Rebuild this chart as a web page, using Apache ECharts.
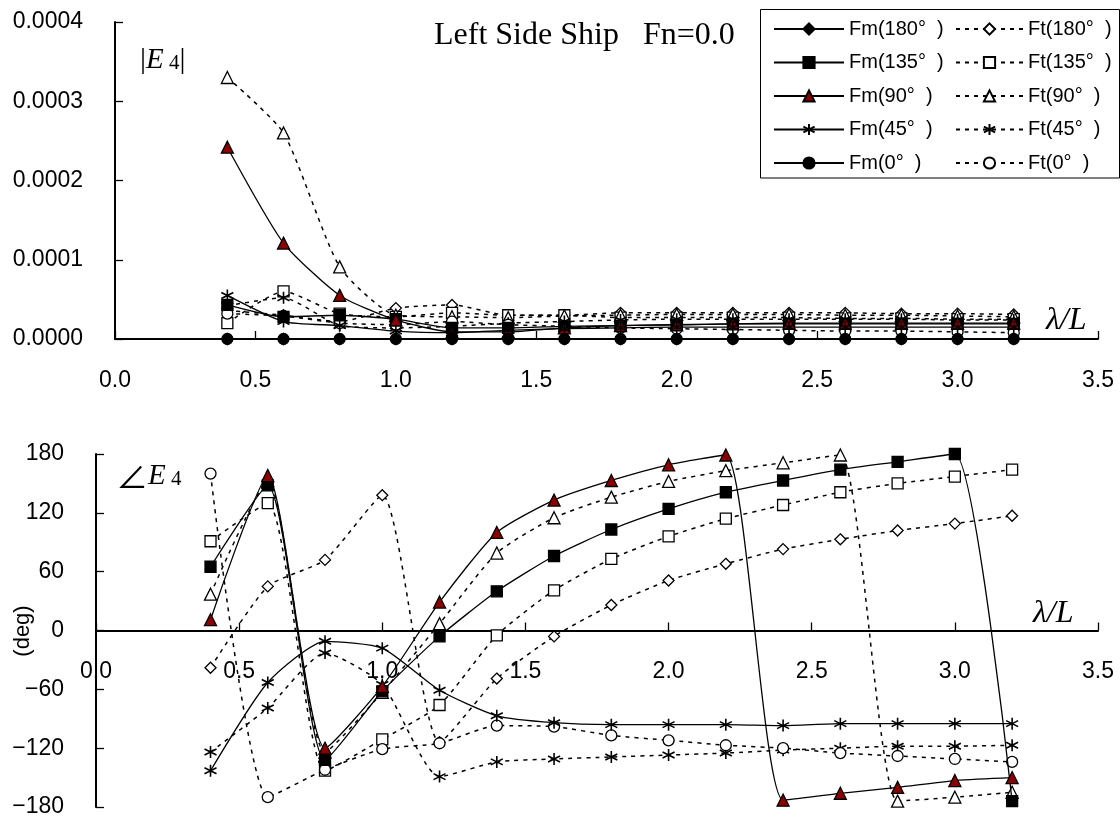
<!DOCTYPE html>
<html>
<head>
<meta charset="utf-8">
<script src="https://cdn.jsdelivr.net/npm/echarts@6/dist/echarts.min.js"></script>
<style>
  html, body { margin: 0; padding: 0; background: #fff; }
  #chart { width: 1120px; height: 821px; }
</style>
</head>
<body>
<div id="chart"></div>
<script>
// Wave length ratio λ/L at which the responses were evaluated
const lambdaL = [0.4, 0.6, 0.8, 1.0, 1.2, 1.4, 1.6, 1.8, 2.0, 2.2, 2.4, 2.6, 2.8, 3.0, 3.2];

// Axis ticks
const xTicks = { min: 0, max: 3.5, step: 0.5 };
const ampTicks = { min: 0, max: 0.0004, step: 0.0001 };
const phaseTicks = { min: -180, max: 180, step: 60 };

// |E4| amplitudes
const fm180Amp = [0, 0, 0, 0, 0, 0, 0, 0, 0, 0, 0, 0, 0, 0, 0];
const fm135Amp = [0.43e-4, 0.28e-4, 0.30e-4, 0.25e-4, 0.14e-4, 0.14e-4, 0.16e-4, 0.17e-4, 0.18e-4, 0.19e-4, 0.19e-4, 0.19e-4, 0.19e-4, 0.19e-4, 0.19e-4];
const fm90Amp  = [2.42e-4, 1.21e-4, 0.55e-4, 0.24e-4, 0.09e-4, 0.09e-4, 0.14e-4, 0.17e-4, 0.18e-4, 0.19e-4, 0.20e-4, 0.20e-4, 0.20e-4, 0.20e-4, 0.20e-4];
const fm45Amp  = [0.55e-4, 0.22e-4, 0.17e-4, 0.10e-4, 0.08e-4, 0.11e-4, 0.13e-4, 0.14e-4, 0.15e-4, 0.15e-4, 0.15e-4, 0.15e-4, 0.15e-4, 0.15e-4, 0.15e-4];
const fm0Amp   = [0, 0, 0, 0, 0, 0, 0, 0, 0, 0, 0, 0, 0, 0, 0];
const ft180Amp = [0.36e-4, 0.30e-4, 0.22e-4, 0.39e-4, 0.43e-4, 0.30e-4, 0.30e-4, 0.33e-4, 0.33e-4, 0.33e-4, 0.33e-4, 0.33e-4, 0.32e-4, 0.32e-4, 0.31e-4];
const ft135Amp = [0.20e-4, 0.60e-4, 0.32e-4, 0.28e-4, 0.33e-4, 0.30e-4, 0.30e-4, 0.27e-4, 0.27e-4, 0.27e-4, 0.27e-4, 0.26e-4, 0.26e-4, 0.25e-4, 0.25e-4];
const ft90Amp  = [3.30e-4, 2.60e-4, 0.91e-4, 0.30e-4, 0.28e-4, 0.27e-4, 0.29e-4, 0.30e-4, 0.31e-4, 0.31e-4, 0.31e-4, 0.30e-4, 0.30e-4, 0.29e-4, 0.28e-4];
const ft45Amp  = [0.42e-4, 0.52e-4, 0.17e-4, 0.14e-4, 0.16e-4, 0.20e-4, 0.22e-4, 0.24e-4, 0.25e-4, 0.25e-4, 0.25e-4, 0.25e-4, 0.25e-4, 0.24e-4, 0.24e-4];
const ft0Amp   = [0.32e-4, 0.29e-4, 0.20e-4, 0.18e-4, 0.22e-4, 0.18e-4, 0.16e-4, 0.14e-4, 0.13e-4, 0.12e-4, 0.11e-4, 0.10e-4, 0.10e-4, 0.09e-4, 0.08e-4];

// ∠E4 phases (deg)
const fm135Ph = [65, 148, -132, -62, -6, 40, 76, 103, 124, 141, 153, 164, 172, 180, -174];
const fm90Ph  = [11, 158, -120, -57, 29, 100, 133, 153, 169, 179, -173, -166, -160, -153, -150];
const fm45Ph  = [-143, -53, -11, -18, -61, -87, -94, -96, -96, -96, -97, -95, -95, -95, -95];
const ft180Ph = [-38, 45, 72, 138, -114, -49, -6, 26, 51, 68, 83, 93, 102, 109, 117];
const ft135Ph = [91, 130, -143, -111, -76, -5, 41, 73, 96, 114, 128, 141, 150, 157, 164];
const ft90Ph  = [37, 153, -124, -63, 7, 79, 115, 136, 152, 163, 171, 179, -174, -170, -165];
const ft45Ph  = [-124, -79, -23, -55, -149, -134, -131, -129, -127, -125, -122, -120, -118, -118, -117];
const ft0Ph   = [160, -170, -142, -121, -115, -97, -98, -107, -112, -117, -120, -125, -128, -131, -134];

// Series names
const fmNames = ['Fm(180°  )', 'Fm(135°  )', 'Fm(90°  )', 'Fm(45°  )', 'Fm(0°  )'];
const ftNames = ['Ft(180°  )', 'Ft(135°  )', 'Ft(90°  )', 'Ft(45°  )', 'Ft(0°  )'];

const STAR = 'path://M6,0L6,12M0.8,3L11.2,9M0.8,9L11.2,3';
const SANS = '"Liberation Sans", Arial, sans-serif';
const SERIF = '"Liberation Serif", "Times New Roman", serif';
const RED = '#8b0000';

// Plot areas (px)
const ampGrid = { left: 115, right: 22, top: 22, height: 317 };
const phaseGrid = { left: 96, right: 22, top: 454, height: 353 };

function pairs(ys) { return lambdaL.map((x, i) => [x, ys[i]]); }

function makeSeries(name, grid, ys, symbol, fill, dashed) {
  return {
    name: name,
    type: 'line',
    xAxisIndex: grid,
    yAxisIndex: grid,
    data: pairs(ys),
    smooth: 0.2,
    symbol: symbol,
    symbolSize: symbol === 'triangle' ? 12 : (symbol === STAR ? 12 : 11),
    showAllSymbol: true,
    lineStyle: { color: '#000', width: dashed ? 1.5 : 1.3, type: dashed ? [4, 5] : 'solid' },
    itemStyle: { color: fill, borderColor: '#000', borderWidth: symbol === STAR ? 1.6 : 1.3 },
    emphasis: { disabled: true },
    z: dashed ? 2 : 3
  };
}

const series = [
  // amplitude
  makeSeries(fmNames[0], 0, fm180Amp, 'diamond', '#000', false),
  makeSeries(fmNames[1], 0, fm135Amp, 'rect', '#000', false),
  makeSeries(fmNames[2], 0, fm90Amp, 'triangle', RED, false),
  makeSeries(fmNames[3], 0, fm45Amp, STAR, '#000', false),
  makeSeries(fmNames[4], 0, fm0Amp, 'circle', '#000', false),
  makeSeries(ftNames[0], 0, ft180Amp, 'diamond', '#fff', true),
  makeSeries(ftNames[1], 0, ft135Amp, 'rect', '#fff', true),
  makeSeries(ftNames[2], 0, ft90Amp, 'triangle', '#fff', true),
  makeSeries(ftNames[3], 0, ft45Amp, STAR, '#fff', true),
  makeSeries(ftNames[4], 0, ft0Amp, 'circle', '#fff', true),
  // phase
  makeSeries(fmNames[1], 1, fm135Ph, 'rect', '#000', false),
  makeSeries(fmNames[2], 1, fm90Ph, 'triangle', RED, false),
  makeSeries(fmNames[3], 1, fm45Ph, STAR, '#000', false),
  makeSeries(ftNames[0], 1, ft180Ph, 'diamond', '#fff', true),
  makeSeries(ftNames[1], 1, ft135Ph, 'rect', '#fff', true),
  makeSeries(ftNames[2], 1, ft90Ph, 'triangle', '#fff', true),
  makeSeries(ftNames[3], 1, ft45Ph, STAR, '#fff', true),
  makeSeries(ftNames[4], 1, ft0Ph, 'circle', '#fff', true)
];

function xAxis(grid, offset) {
  return {
    gridIndex: grid,
    type: 'value',
    position: 'bottom',
    offset: offset,
    min: xTicks.min, max: xTicks.max, interval: xTicks.step,
    axisLine: { onZero: false, lineStyle: { color: '#000', width: 2 } },
    axisTick: { inside: true, length: 8, lineStyle: { color: '#000', width: 1.3 } },
    axisLabel: {
      margin: 30, color: '#000', fontSize: 23, fontFamily: SANS,
      formatter: v => v.toFixed(1)
    },
    splitLine: { show: false }
  };
}

function yAxis(grid, t, fmt) {
  return {
    gridIndex: grid,
    type: 'value',
    min: t.min, max: t.max, interval: t.step,
    axisLine: { show: true, onZero: false, lineStyle: { color: '#000', width: 2 } },
    axisTick: { show: true, inside: true, length: 8, lineStyle: { color: '#000', width: 1.3 } },
    axisLabel: { margin: 32, color: '#000', fontSize: 23, fontFamily: SANS, formatter: fmt },
    splitLine: { show: false }
  };
}

function legend(names, left, itemWidth) {
  return {
    data: names,
    orient: 'vertical',
    left: left,
    top: 14,
    itemWidth: itemWidth,
    itemHeight: 14,
    itemGap: 13.5,
    selectedMode: false,
    textStyle: { color: '#000', fontSize: 20, lineHeight: 20, fontFamily: SANS }
  };
}

// the phase x-axis sits on the 0° line, halfway up its plot area
const phaseZeroOffset = -phaseGrid.height * (0 - phaseTicks.min) / (phaseTicks.max - phaseTicks.min);

const option = {
  animation: false,
  backgroundColor: '#fff',
  grid: [ampGrid, phaseGrid],
  xAxis: [xAxis(0, 0), xAxis(1, phaseZeroOffset)],
  yAxis: [
    yAxis(0, ampTicks, v => v.toFixed(4)),
    yAxis(1, phaseTicks, v => String(v).replace('-', '\u2212'))
  ],
  legend: [legend(fmNames, 768, 70), legend(ftNames, 950, 67)],
  graphic: [
    { type: 'rect', z: 0, shape: { x: 760.5, y: 9.5, width: 359, height: 168.5 },
      style: { fill: '#fff', stroke: '#000', lineWidth: 1 } },
    { type: 'text', x: 434, y: 36, z: 10,
      style: { text: 'Left Side Ship   Fn=0.0', font: '32px ' + SERIF, fill: '#000', verticalAlign: 'middle' } },
    { type: 'text', x: 140, y: 60, z: 10,
      style: {
        text: '{b||}{e|E}{s| 4}{b||}', fill: '#000', verticalAlign: 'middle',
        rich: {
          b: { font: '30px ' + SERIF, fill: '#000' },
          e: { font: 'italic 29px ' + SERIF, fill: '#000' },
          s: { font: '21px ' + SERIF, fill: '#000', padding: [6, 0, 0, 0] }
        }
      } },
    { type: 'text', x: 116, y: 476, z: 10,
      style: {
        text: '{a|∠}{e|E}{s| 4}', fill: '#000', verticalAlign: 'middle',
        rich: {
          a: { font: '32px "Noto Sans CJK JP", sans-serif', fill: '#000' },
          e: { font: 'italic 29px ' + SERIF, fill: '#000' },
          s: { font: '21px ' + SERIF, fill: '#000', padding: [6, 0, 0, 0] }
        }
      } },
    { type: 'text', x: 1046, y: 321, z: 10,
      style: { text: 'λ/L', font: 'italic 32px ' + SERIF, fill: '#000', verticalAlign: 'middle' } },
    { type: 'text', x: 1033, y: 614, z: 10,
      style: { text: 'λ/L', font: 'italic 32px ' + SERIF, fill: '#000', verticalAlign: 'middle' } },
    { type: 'text', x: 23, y: 631, rotation: Math.PI / 2, z: 10,
      style: { text: '(deg)', font: '22px ' + SANS, fill: '#000', align: 'center', verticalAlign: 'middle' } }
  ],
  series: series
};

const chart = echarts.init(document.getElementById('chart'), null, { renderer: 'canvas' });
chart.setOption(option);
</script>
</body>
</html>
